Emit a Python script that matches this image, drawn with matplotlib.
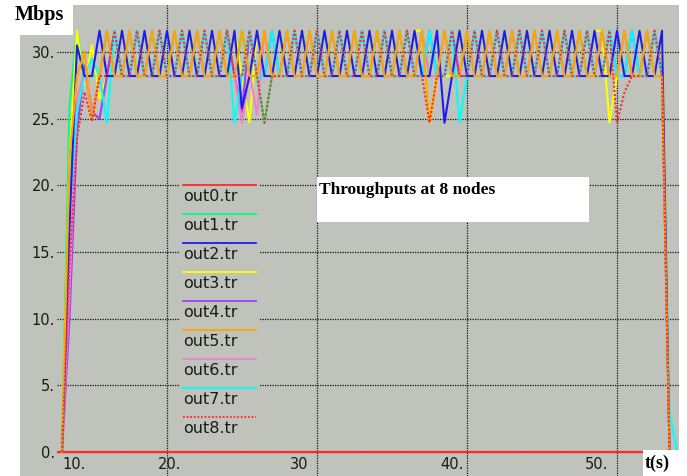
import numpy as np
import matplotlib.pyplot as plt
from matplotlib.patches import Rectangle

# ---- data (Mbps vs time in s) ----
t = np.arange(13.0, 54.01, 0.5)   # sampling grid of the traces

out0_t = [12.6, 54.2]
out0 = [0.0, 0.0]

out1 = [0, 26.0, 31.6, 28.2, 28.2, 28.2, 31.6, 28.2, 28.2, 31.6, 28.2, 28.2,
        31.6, 28.2, 28.2, 31.6, 28.2, 28.2, 31.6, 28.2, 28.2, 31.6, 28.2, 28.2,
        31.6, 28.2, 28.2, 24.7, 28.2, 28.2, 31.6, 28.2, 28.2, 31.6, 28.2, 28.2,
        31.6, 28.2, 28.2, 31.6, 28.2, 28.2, 31.6, 28.2, 28.2, 31.6, 28.2, 28.2,
        31.6, 28.2, 28.2, 31.6, 28.2, 28.2, 31.6, 28.2, 28.2, 31.6, 28.2, 28.2,
        31.6, 28.2, 28.2, 31.6, 28.2, 28.2, 31.6, 28.2, 28.2, 31.6, 28.2, 28.2,
        31.6, 28.2, 28.2, 31.6, 28.2, 28.2, 31.6, 28.2, 28.2, 0, 0]

out2 = [0, 17.0, 30.5, 28.2, 28.2, 31.6, 28.2, 28.2, 31.6, 28.2, 28.2, 31.6,
        28.2, 28.2, 31.6, 28.2, 28.2, 31.6, 28.2, 28.2, 31.6, 28.2, 28.2, 31.6,
        25.8, 28.2, 31.6, 28.2, 28.2, 31.6, 28.2, 28.2, 31.6, 28.2, 28.2, 31.6,
        28.2, 28.2, 31.6, 28.2, 28.2, 31.6, 28.2, 28.2, 31.6, 28.2, 28.2, 31.6,
        28.2, 28.2, 31.6, 24.7, 28.2, 31.6, 28.2, 28.2, 31.6, 28.2, 28.2, 31.6,
        28.2, 28.2, 31.6, 28.2, 28.2, 31.6, 28.2, 28.2, 31.6, 28.2, 28.2, 31.6,
        28.2, 28.2, 31.6, 28.2, 28.2, 31.6, 28.2, 28.2, 31.6, 0, 0]

out3 = [0, 22.0, 31.6, 27.5, 30.5, 26.5, 28.2, 28.2, 31.6, 28.2, 28.2, 31.6,
        28.2, 28.2, 31.6, 28.2, 28.2, 31.6, 28.2, 28.2, 31.6, 28.2, 28.2, 31.6,
        28.2, 24.7, 31.6, 28.2, 28.2, 31.6, 28.2, 28.2, 31.6, 28.2, 28.2, 31.6,
        28.2, 28.2, 31.6, 28.2, 28.2, 31.6, 28.2, 28.2, 31.6, 28.2, 28.2, 31.6,
        31.6, 24.7, 28.2, 28.2, 28.2, 31.6, 28.2, 28.2, 31.6, 28.2, 28.2, 31.6,
        28.2, 28.2, 31.6, 28.2, 28.2, 31.6, 28.2, 28.2, 31.6, 28.2, 28.2, 31.6,
        31.6, 24.7, 28.2, 28.2, 28.2, 31.6, 28.2, 28.2, 31.6, 0, 0]

out4 = [0, 10.0, 24.0, 29.0, 25.5, 25.0, 28.2, 31.6, 28.2, 28.2, 31.6, 28.2,
        28.2, 31.6, 28.2, 28.2, 31.6, 28.2, 28.2, 31.6, 28.2, 28.2, 31.6, 28.2,
        25.5, 31.6, 28.2, 28.2, 31.6, 28.2, 28.2, 31.6, 28.2, 28.2, 31.6, 28.2,
        28.2, 31.6, 28.2, 28.2, 31.6, 28.2, 28.2, 31.6, 28.2, 28.2, 31.6, 28.2,
        28.2, 31.6, 28.2, 28.2, 31.6, 28.2, 28.2, 31.6, 28.2, 28.2, 31.6, 28.2,
        28.2, 31.6, 28.2, 28.2, 31.6, 28.2, 28.2, 31.6, 28.2, 28.2, 31.6, 28.2,
        28.2, 31.6, 28.2, 28.2, 31.6, 28.2, 28.2, 31.6, 28.2, 0, 0]

out5 = [0, 22.0, 28.2, 30.0, 24.9, 28.2, 31.6, 28.2, 28.2, 31.6, 28.2, 28.2,
        31.6, 28.2, 28.2, 31.6, 28.2, 28.2, 31.6, 28.2, 28.2, 31.6, 28.2, 28.2,
        31.6, 28.2, 28.2, 31.6, 28.2, 28.2, 31.6, 28.2, 28.2, 31.6, 28.2, 28.2,
        31.6, 28.2, 28.2, 31.6, 28.2, 28.2, 31.6, 28.2, 28.2, 31.6, 28.2, 28.2,
        31.6, 24.7, 28.2, 31.6, 28.2, 28.2, 31.6, 28.2, 28.2, 31.6, 28.2, 28.2,
        31.6, 28.2, 28.2, 31.6, 28.2, 28.2, 31.6, 28.2, 28.2, 31.6, 28.2, 28.2,
        31.6, 28.2, 28.2, 31.6, 28.2, 28.2, 31.6, 28.2, 28.2, 0, 0]

out6 = [0, 12.0, 26.5, 28.5, 25.2, 28.2, 31.6, 28.2, 28.2, 31.6, 28.2, 28.2,
        31.6, 28.2, 28.2, 31.6, 28.2, 28.2, 31.6, 28.2, 28.2, 31.6, 28.2, 28.2,
        24.7, 28.5, 25.3, 31.6, 28.2, 28.2, 31.6, 28.2, 28.2, 31.6, 28.2, 28.2,
        31.6, 28.2, 28.2, 31.6, 28.2, 28.2, 31.6, 28.2, 28.2, 31.6, 28.2, 28.2,
        31.6, 28.2, 28.2, 31.6, 28.2, 28.2, 31.6, 28.2, 28.2, 31.6, 28.2, 28.2,
        31.6, 28.2, 28.2, 31.6, 28.2, 28.2, 31.6, 28.2, 28.2, 31.6, 28.2, 28.2,
        31.6, 28.2, 28.2, 31.6, 28.2, 28.2, 31.6, 28.2, 28.2, 0, 0]

out7 = [0, 18.0, 25.5, 28.2, 29.5, 28.2, 24.7, 31.6, 28.2, 28.2, 31.6, 28.2,
        28.2, 31.6, 28.2, 28.2, 31.6, 28.2, 28.2, 31.6, 28.2, 28.2, 31.6, 24.7,
        28.2, 31.6, 28.2, 28.2, 31.6, 28.2, 28.2, 31.6, 28.2, 28.2, 31.6, 28.2,
        28.2, 31.6, 28.2, 28.2, 31.6, 28.2, 28.2, 31.6, 28.2, 28.2, 31.6, 28.2,
        28.2, 31.6, 28.2, 28.2, 31.6, 24.7, 28.2, 31.6, 28.2, 28.2, 31.6, 28.2,
        28.2, 31.6, 28.2, 28.2, 31.6, 28.2, 28.2, 31.6, 28.2, 28.2, 31.6, 28.2,
        28.2, 31.6, 28.2, 28.2, 31.6, 28.2, 28.2, 31.6, 28.2, 3.0, 0]

out8 = [0, 14.0, 23.5, 27.0, 24.8, 28.2, 28.2, 31.6, 28.2, 28.2, 31.6, 28.2,
        28.2, 31.6, 28.2, 28.2, 31.6, 28.2, 28.2, 31.6, 28.2, 28.2, 31.6, 28.2,
        28.2, 31.6, 28.2, 24.7, 28.2, 28.2, 28.2, 31.6, 28.2, 28.2, 31.6, 28.2,
        28.2, 31.6, 28.2, 28.2, 31.6, 28.2, 28.2, 31.6, 28.2, 28.2, 31.6, 28.2,
        28.2, 24.7, 28.2, 28.2, 31.6, 28.2, 28.2, 31.6, 28.2, 28.2, 31.6, 28.2,
        28.2, 31.6, 28.2, 28.2, 31.6, 28.2, 28.2, 31.6, 28.2, 28.2, 31.6, 28.2,
        28.2, 31.6, 24.7, 27.0, 28.2, 28.2, 28.2, 31.6, 28.2, 0, 0]

names = ["out0.tr", "out1.tr", "out2.tr", "out3.tr", "out4.tr",
         "out5.tr", "out6.tr", "out7.tr", "out8.tr"]
colors = ["#ff2a2a", "#00ff80", "#1c1cf0", "#ffff00", "#a040f0",
          "#ffa500", "#f080c8", "#00ffff", "#ff2a2a"]
styles = ["-", "-", "-", "-", "-", "-", "-", "-", (0, (1, 1))]

yticks = [0, 5, 10, 15, 20, 25, 30]
ytick_labels = ["0.", "5.", "10.", "15.", "20.", "25.", "30."]
xgrid = [20, 30, 40, 50]
xtick_pos = [13.8, 20.2, 28.8, 39.0, 48.6]
xtick_labels = ["10.", "20.", "30", "40.", "50."]

GRAY = "#bfc3bc"
W, H = 687, 476
AX_L, AX_R, AX_T, AX_B = 57, 679, 5, 476

fig = plt.figure(figsize=(W / 100, H / 100), dpi=100, facecolor="white")

# grey xgraph window and white corner boxes
fig.patches.append(Rectangle((20 / W, 0), (679 - 20) / W, (476 - 5) / H,
                             transform=fig.transFigure, facecolor=GRAY,
                             edgecolor="none", zorder=-2))
fig.patches.append(Rectangle((0, 1 - 35 / H), 73 / W, 35 / H,
                             transform=fig.transFigure, facecolor="white",
                             edgecolor="none", zorder=-1))

ax = fig.add_axes([AX_L / W, 1 - AX_B / H, (AX_R - AX_L) / W, (AX_B - AX_T) / H])
ax.set_facecolor("none")
for s in ax.spines.values():
    s.set_visible(False)

ax.set_xlim(12.667, 54.133)
ax.set_ylim(-1.8, 33.53)

ax.set_yticks(yticks, ytick_labels)
ax.set_xticks(xtick_pos, xtick_labels)
ax.set_xticks(xgrid, minor=True)
ax.tick_params(axis="both", which="both", length=0, labelsize=10.5,
               labelcolor="#1a1a1a")
ax.tick_params(axis="y", pad=1.5)
ax.tick_params(axis="x", pad=-14)
grid_kw = dict(color="#111111", linestyle=(0, (1, 1)), linewidth=0.9)
ax.grid(True, axis="y", which="major", **grid_kw)
ax.grid(True, axis="x", which="minor", **grid_kw)
ax.set_axisbelow(True)

series = [out0, out1, out2, out3, out4, out5, out6, out7, out8]
draw_order = [1, 3, 4, 6, 0, 7, 2, 5, 8]
for i in draw_order:
    if i == 0:
        ax.plot(out0_t, out0, color=colors[0], lw=1.6, zorder=2)
    else:
        ax.plot(t, series[i], color=colors[i], linestyle=styles[i],
                lw=1.5, zorder=2)


def axp(px, py):
    return (px - AX_L) / (AX_R - AX_L), (AX_B - py) / (AX_B - AX_T)


# legend in xgraph style: line above each name
x0, y0 = axp(180, 178)
x1, y1 = axp(259, 426)
ax.add_patch(Rectangle((x0, y1), x1 - x0, y0 - y1, transform=ax.transAxes,
                       facecolor=GRAY, edgecolor="none", zorder=3))
for i, name in enumerate(names):
    ly = 185 + 29 * i
    xa, ya = axp(183, ly)
    xb, _ = axp(256, ly)
    ax.plot([xa, xb], [ya, ya], transform=ax.transAxes, color=colors[i],
            linestyle=styles[i], lw=1.3, zorder=4)
    tx, ty = axp(183, ly + 16)
    ax.text(tx, ty, name, transform=ax.transAxes, fontsize=11.5,
            color="#1a1a1a", va="baseline", ha="left", zorder=4)

# title box
bx0, by0 = axp(317, 177)
bx1, by1 = axp(589, 222)
ax.add_patch(Rectangle((bx0, by1), bx1 - bx0, by0 - by1, transform=ax.transAxes,
                       facecolor="white", edgecolor="none", zorder=3))
tx, ty = axp(319, 194)
ax.text(tx, ty, "Throughputs at 8 nodes", transform=ax.transAxes,
        family="Liberation Serif", weight="bold", fontsize=12.5,
        va="baseline", ha="left", zorder=4)

# axis captions
fig.text(15 / W, 1 - 20 / H, "Mbps", family="Liberation Serif",
         weight="bold", fontsize=14.5, va="baseline", ha="left")
fig.patches.append(Rectangle((643 / W, 0), 37 / W, 26 / H,
                             transform=fig.transFigure, facecolor="white",
                             edgecolor="none", zorder=5))
fig.text(645 / W, 1 - 468 / H, "t(s)", family="Liberation Serif",
         weight="bold", fontsize=13, va="baseline", ha="left", zorder=6)

fig.savefig("out.png", dpi=100, facecolor="white")
